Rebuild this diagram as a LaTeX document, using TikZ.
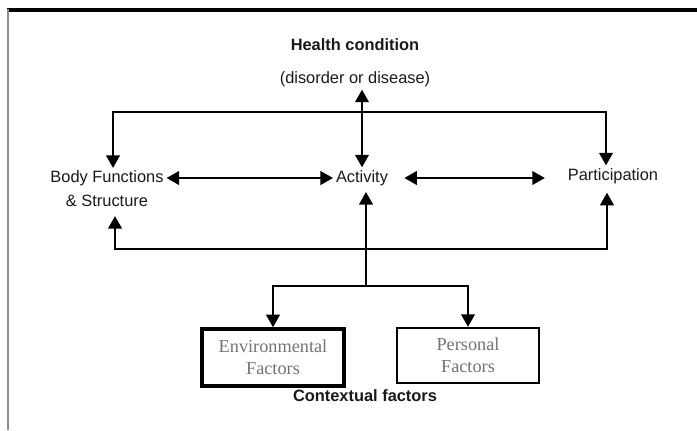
\documentclass[tikz,border=0pt]{standalone}
\usepackage{fontspec}
\setmainfont{Liberation Sans}
\newfontfamily\boxfont{Liberation Serif}
\usetikzlibrary{arrows.meta}

\begin{document}
\begin{tikzpicture}[x=0.75pt, y=-0.75pt, >={Triangle[length=9.5pt,width=10pt]},
  lbl/.style={inner sep=2pt, text=black!90, font=\fontsize{12.3}{15}\selectfont},
  lblb/.style={lbl, font=\fontsize{12.3}{15}\selectfont\bfseries},
  factor/.style={draw, align=center, minimum width=106.5pt, text=black!55, font=\boxfont\fontsize{13.7}{16.5}\selectfont},
  link/.style={line width=2.2pt}]

\useasboundingbox (0,0) rectangle (697,430);

% frame
\draw[line width=2.4pt] (7,10) -- (697,10);
\draw[line width=1.5pt, black!45] (7.5,9) -- (7.5,430);

% health condition
\node[lblb] (health) at (355,45) {Health condition};
\node[lbl] (disorder) at (355,79) {(disorder or disease)};

% the three components
\node[lbl, align=center] (body) at (107,189) {Body Functions\\[3pt]\& Structure};
\node[lbl] (activity) at (362,178) {Activity};
\node[lbl] (particip) at (613,176) {Participation};

% contextual factors
\node[factor, line width=2.5pt, minimum height=42.75pt] (env) at (273,357.5) {Environmental\\Factors};
\node[factor, line width=1.6pt, minimum height=41.25pt] (pers) at (468,355.5) {Personal\\Factors};
\node[lblb] (ctxlabel) at (365,396) {Contextual factors};

% corners of the two bars
\coordinate (tl) at (113,112);
\coordinate (tr) at (606,112);
\coordinate (bl) at (115,249);
\coordinate (br) at (607,249);
\coordinate (ctx) at (366,286);

% health condition to activity, and top bar
\draw[link,<->] (activity.north) -- (activity.north |- disorder.south);
\draw[link,<->] (body.north -| tl) -- (tl) -- (tr) -- (particip.north -| tr);

% between the components
\draw[link,<->] (body.east |- activity) -- (activity.west);
\draw[link,<->, shorten <=10pt, shorten >=15pt] (activity.east) -- (particip.west |- activity);

% bottom bar
\draw[link,<->, shorten <=4.5pt, shorten >=4.5pt] (body.south -| bl) -- (bl) -- (br) -- (particip.south -| br);

% contextual factors up to activity
\draw[link,->, shorten >=2.5pt] (ctx) -- (activity.south -| ctx);
\draw[link,<->] (env.north) |- (ctx) -| (pers.north);

\end{tikzpicture}
\end{document}
